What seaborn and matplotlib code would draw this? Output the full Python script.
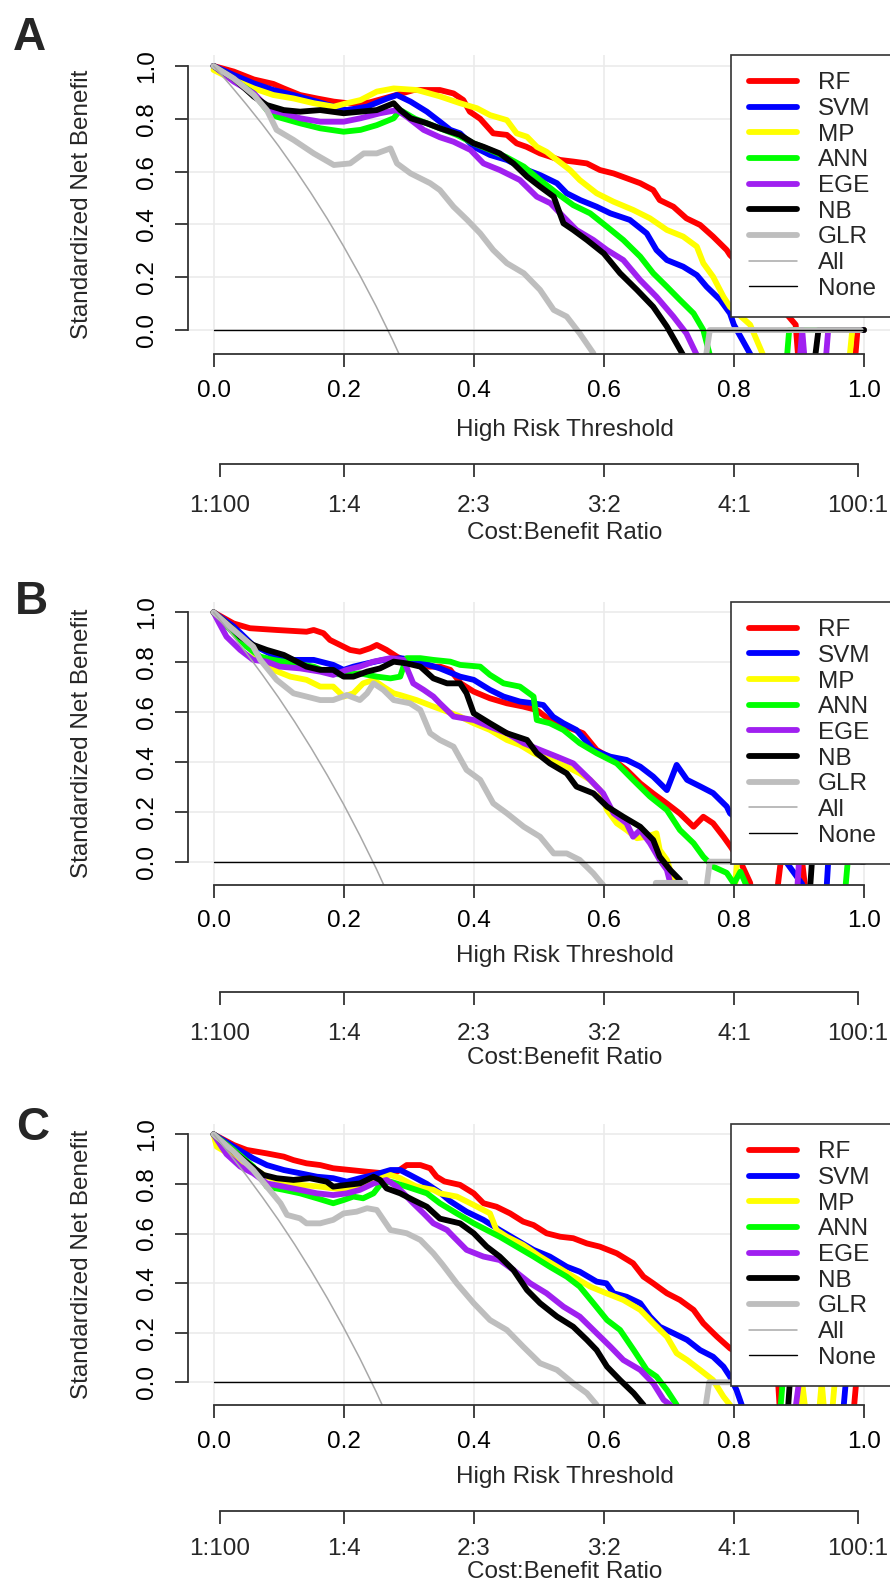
import numpy as np
import pandas as pd
import seaborn as sns
import matplotlib.pyplot as plt
from matplotlib.lines import Line2D

sns.set_style("white")
plt.rcParams['font.family'] = ['Liberation Sans', 'DejaVu Sans']

# model names and colours (R colour names red, blue, yellow, green, purple, black, gray)
models = ['RF', 'SVM', 'MP', 'ANN', 'EGE', 'NB', 'GLR']
model_colors = ['#FF0000', '#0000FF', '#FFFF00', '#00FF00', '#A020F0', '#000000', '#BEBEBE']
panel_letters = ['A', 'B', 'C']

risk_ticks = [0.0, 0.2, 0.4, 0.6, 0.8, 1.0]
risk_labels = ['0.0', '0.2', '0.4', '0.6', '0.8', '1.0']
nb_ticks = [0.0, 0.2, 0.4, 0.6, 0.8, 1.0]
nb_labels = ['0.0', '0.2', '0.4', '0.6', '0.8', '1.0']
cb_ticks = [0.0099, 0.2, 0.4, 0.6, 0.8, 0.9901]
cb_labels = ['1:100', '1:4', '2:3', '3:2', '4:1', '100:1']

# reference lines
none_x = [0.0, 1.0]
none_y = [0.0, 0.0]
all_x = [0.0, 0.025, 0.05, 0.075, 0.1, 0.125, 0.15, 0.175, 0.2, 0.225, 0.25, 0.275, 0.3]
a_all_y = [1.0, 0.930, 0.856, 0.779, 0.697, 0.610, 0.518, 0.421, 0.317, 0.207, 0.090, -0.036, -0.170]
b_all_y = [1.0, 0.921, 0.838, 0.750, 0.658, 0.560, 0.456, 0.346, 0.230, 0.105, -0.027, -0.169, -0.32]
c_all_y = [1.0, 0.920, 0.836, 0.747, 0.654, 0.555, 0.450, 0.339, 0.221, 0.096, -0.038, -0.182, -0.34]

# ---- panel A: (threshold, standardized net benefit) ----
a_rf = [(0, 1.0), (0.031, 0.979), (0.062, 0.949), (0.092, 0.932), (0.108, 0.915), (0.133, 0.890),
        (0.159, 0.877), (0.185, 0.865), (0.21, 0.858), (0.24, 0.862), (0.272, 0.884), (0.308, 0.909),
        (0.348, 0.909), (0.369, 0.896), (0.384, 0.871), (0.394, 0.827), (0.41, 0.80), (0.43, 0.745),
        (0.451, 0.739), (0.466, 0.707), (0.481, 0.694), (0.502, 0.669), (0.533, 0.644), (0.553, 0.638),
        (0.574, 0.631), (0.594, 0.606), (0.615, 0.593), (0.635, 0.575), (0.656, 0.556), (0.676, 0.530),
        (0.686, 0.492), (0.707, 0.467), (0.727, 0.423), (0.748, 0.398), (0.768, 0.354), (0.789, 0.303),
        (0.794, 0.284), (0.85, 0.15), (0.895, 0.02), (0.905, -0.3), (0.98, -0.3), (0.99, 0.0), (1.0, 0.0)]
a_svm = [(0, 1.0), (0.031, 0.966), (0.062, 0.934), (0.092, 0.909), (0.123, 0.890), (0.159, 0.865),
         (0.185, 0.846), (0.205, 0.833), (0.236, 0.846), (0.267, 0.877), (0.282, 0.890), (0.303, 0.865),
         (0.328, 0.827), (0.348, 0.789), (0.364, 0.758), (0.379, 0.745), (0.40, 0.694), (0.425, 0.663),
         (0.451, 0.644), (0.482, 0.606), (0.502, 0.587), (0.528, 0.556), (0.543, 0.518), (0.564, 0.492),
         (0.589, 0.467), (0.61, 0.442), (0.64, 0.417), (0.666, 0.366), (0.681, 0.303), (0.697, 0.265),
         (0.722, 0.240), (0.743, 0.208), (0.758, 0.164), (0.779, 0.114), (0.794, 0.063), (0.80, 0.02),
         (0.826, -0.095), (0.84, -0.3), (1.0, -0.3)]
a_mp = [(0, 0.985), (0.031, 0.947), (0.062, 0.915), (0.092, 0.890), (0.123, 0.877), (0.154, 0.859),
        (0.185, 0.846), (0.205, 0.859), (0.226, 0.871), (0.251, 0.903), (0.277, 0.915), (0.313, 0.909),
        (0.348, 0.885), (0.379, 0.859), (0.405, 0.840), (0.425, 0.814), (0.451, 0.795), (0.466, 0.745),
        (0.482, 0.732), (0.497, 0.694), (0.512, 0.675), (0.528, 0.644), (0.548, 0.606), (0.563, 0.568),
        (0.589, 0.518), (0.615, 0.486), (0.645, 0.455), (0.671, 0.423), (0.697, 0.379), (0.722, 0.354),
        (0.743, 0.316), (0.753, 0.253), (0.768, 0.202), (0.784, 0.126), (0.794, 0.088), (0.825, 0.02),
        (0.845, -0.095), (0.86, -0.3), (0.97, -0.3), (0.982, 0.0), (1.0, 0.0)]
a_ann = [(0, 1.0), (0.031, 0.947), (0.062, 0.896), (0.082, 0.833), (0.097, 0.808), (0.133, 0.783),
         (0.164, 0.764), (0.2, 0.751), (0.226, 0.758), (0.251, 0.776), (0.277, 0.802), (0.287, 0.833),
         (0.31, 0.80), (0.348, 0.764), (0.374, 0.739), (0.40, 0.707), (0.425, 0.682), (0.45, 0.655),
         (0.477, 0.619), (0.502, 0.568), (0.528, 0.518), (0.553, 0.473), (0.579, 0.442), (0.605, 0.391),
         (0.63, 0.341), (0.656, 0.278), (0.676, 0.215), (0.697, 0.164), (0.717, 0.114), (0.738, 0.063),
         (0.753, 0.0), (0.763, -0.095), (0.78, -0.3), (0.875, -0.3), (0.885, 0.0), (1.0, 0.0)]
a_ege = [(0, 1.0), (0.031, 0.941), (0.062, 0.896), (0.087, 0.833), (0.108, 0.821), (0.133, 0.802),
         (0.164, 0.789), (0.2, 0.789), (0.226, 0.802), (0.256, 0.821), (0.282, 0.833), (0.297, 0.808),
         (0.323, 0.758), (0.348, 0.730), (0.369, 0.713), (0.395, 0.682), (0.415, 0.631), (0.44, 0.606),
         (0.471, 0.568), (0.497, 0.505), (0.518, 0.480), (0.538, 0.429), (0.558, 0.379), (0.584, 0.341),
         (0.605, 0.303), (0.63, 0.265), (0.656, 0.189), (0.681, 0.126), (0.707, 0.051), (0.727, -0.013),
         (0.743, -0.095), (0.76, -0.3), (0.895, -0.3), (0.905, 0.0), (0.915, -0.3), (0.935, -0.3),
         (0.945, 0.0), (1.0, 0.0)]
a_nb = [(0, 1.0), (0.031, 0.953), (0.062, 0.884), (0.082, 0.852), (0.108, 0.833), (0.133, 0.827),
        (0.164, 0.833), (0.2, 0.821), (0.226, 0.827), (0.251, 0.833), (0.277, 0.859), (0.287, 0.833),
        (0.303, 0.802), (0.328, 0.783), (0.348, 0.764), (0.379, 0.739), (0.40, 0.707), (0.415, 0.694),
        (0.44, 0.669), (0.461, 0.631), (0.482, 0.581), (0.502, 0.543), (0.523, 0.505), (0.538, 0.404),
        (0.553, 0.379), (0.574, 0.341), (0.60, 0.290), (0.625, 0.215), (0.651, 0.152), (0.676, 0.088),
        (0.697, 0.013), (0.722, -0.095), (0.74, -0.3), (0.915, -0.3), (0.93, 0.0), (1.0, 0.0)]
a_glr = [(0, 1.0), (0.031, 0.953), (0.062, 0.890), (0.082, 0.833), (0.097, 0.758), (0.123, 0.720),
         (0.154, 0.669), (0.185, 0.625), (0.21, 0.631), (0.231, 0.669), (0.251, 0.669), (0.272, 0.688),
         (0.282, 0.631), (0.303, 0.593), (0.333, 0.556), (0.348, 0.530), (0.369, 0.467), (0.39, 0.417),
         (0.41, 0.366), (0.43, 0.303), (0.451, 0.253), (0.477, 0.215), (0.502, 0.152), (0.523, 0.076),
         (0.543, 0.051), (0.563, -0.013), (0.584, -0.088), (0.60, -0.3), (0.745, -0.3), (0.763, 0.0),
         (0.995, 0.0)]

# ---- panel B ----
b_rf = [(0, 1.0), (0.031, 0.955), (0.056, 0.936), (0.097, 0.929), (0.143, 0.922), (0.154, 0.929),
        (0.169, 0.916), (0.179, 0.889), (0.21, 0.849), (0.225, 0.842), (0.241, 0.856), (0.251, 0.869),
        (0.266, 0.849), (0.282, 0.822), (0.302, 0.795), (0.328, 0.782), (0.348, 0.782), (0.364, 0.769),
        (0.38, 0.715), (0.40, 0.682), (0.425, 0.655), (0.451, 0.635), (0.476, 0.622), (0.497, 0.608),
        (0.517, 0.568), (0.543, 0.541), (0.568, 0.515), (0.589, 0.448), (0.615, 0.408), (0.635, 0.368),
        (0.656, 0.314), (0.676, 0.273), (0.697, 0.233), (0.717, 0.193), (0.738, 0.140), (0.753, 0.180),
        (0.768, 0.154), (0.784, 0.100), (0.795, 0.06), (0.81, 0.0), (0.825, -0.085), (0.835, -0.3),
        (0.858, -0.3), (0.872, 0.0), (0.905, 0.0), (0.918, -0.3), (1.0, -0.3)]
b_svm = [(0, 1.0), (0.031, 0.943), (0.06, 0.87), (0.09, 0.83), (0.123, 0.809), (0.154, 0.809),
         (0.184, 0.789), (0.2, 0.769), (0.215, 0.782), (0.236, 0.795), (0.261, 0.809), (0.287, 0.816),
         (0.307, 0.809), (0.33, 0.79), (0.348, 0.775), (0.379, 0.742), (0.40, 0.729), (0.425, 0.689),
         (0.446, 0.662), (0.471, 0.642), (0.492, 0.635), (0.507, 0.628), (0.522, 0.581), (0.538, 0.555),
         (0.558, 0.528), (0.584, 0.448), (0.61, 0.421), (0.635, 0.408), (0.656, 0.381), (0.676, 0.341),
         (0.697, 0.287), (0.712, 0.388), (0.728, 0.328), (0.748, 0.302), (0.768, 0.275), (0.789, 0.221),
         (0.794, 0.194), (0.84, 0.10), (0.88, 0.0), (0.905, -0.09), (0.91, -0.3), (0.938, -0.3),
         (0.945, 0.0), (1.0, 0.0)]
b_mp = [(0, 1.0), (0.031, 0.93), (0.05, 0.87), (0.072, 0.809), (0.092, 0.769), (0.118, 0.742),
        (0.143, 0.729), (0.164, 0.702), (0.184, 0.702), (0.2, 0.662), (0.215, 0.675), (0.23, 0.715),
        (0.246, 0.729), (0.262, 0.70), (0.277, 0.675), (0.287, 0.668), (0.312, 0.648), (0.338, 0.622),
        (0.359, 0.602), (0.379, 0.582), (0.40, 0.555), (0.425, 0.528), (0.451, 0.488), (0.471, 0.468),
        (0.492, 0.435), (0.517, 0.408), (0.543, 0.381), (0.563, 0.354), (0.579, 0.328), (0.594, 0.287),
        (0.605, 0.207), (0.62, 0.154), (0.635, 0.127), (0.651, 0.094), (0.666, 0.100), (0.681, 0.114),
        (0.686, 0.047), (0.697, 0.007), (0.707, -0.073), (0.715, -0.3), (0.795, -0.3), (0.805, 0.0),
        (1.0, 0.0)]
b_ann = [(0, 1.0), (0.031, 0.916), (0.051, 0.862), (0.072, 0.822), (0.092, 0.809), (0.123, 0.795),
         (0.154, 0.782), (0.179, 0.755), (0.2, 0.749), (0.225, 0.755), (0.251, 0.742), (0.272, 0.735),
         (0.287, 0.742), (0.292, 0.782), (0.297, 0.816), (0.318, 0.816), (0.338, 0.809), (0.364, 0.802),
         (0.379, 0.789), (0.41, 0.782), (0.425, 0.749), (0.446, 0.715), (0.471, 0.702), (0.492, 0.662),
         (0.497, 0.568), (0.517, 0.555), (0.538, 0.528), (0.563, 0.475), (0.589, 0.435), (0.62, 0.394),
         (0.645, 0.328), (0.671, 0.261), (0.697, 0.207), (0.717, 0.127), (0.738, 0.074), (0.753, 0.020),
         (0.768, -0.02), (0.789, -0.045), (0.80, -0.088), (0.81, -0.04), (0.82, -0.1), (0.83, -0.3),
         (0.965, -0.3), (0.975, 0.0), (1.0, 0.0)]
b_ege = [(0, 1.0), (0.008, 0.96), (0.02, 0.902), (0.041, 0.849), (0.061, 0.809), (0.082, 0.802),
         (0.102, 0.782), (0.133, 0.775), (0.164, 0.762), (0.184, 0.749), (0.205, 0.769), (0.225, 0.782),
         (0.246, 0.802), (0.272, 0.816), (0.292, 0.809), (0.307, 0.715), (0.323, 0.689), (0.338, 0.662),
         (0.348, 0.635), (0.369, 0.582), (0.40, 0.568), (0.425, 0.541), (0.451, 0.515), (0.477, 0.475),
         (0.502, 0.448), (0.528, 0.421), (0.553, 0.394), (0.579, 0.328), (0.599, 0.274), (0.615, 0.194),
         (0.635, 0.154), (0.645, 0.100), (0.656, 0.127), (0.671, 0.074), (0.686, 0.007), (0.697, -0.033),
         (0.703, -0.094), (0.71, -0.3), (0.893, -0.3), (0.90, 0.0), (1.0, 0.0)]
b_nb = [(0, 1.0), (0.026, 0.943), (0.041, 0.902), (0.061, 0.869), (0.082, 0.849), (0.108, 0.829),
        (0.123, 0.809), (0.143, 0.782), (0.164, 0.769), (0.184, 0.769), (0.2, 0.742), (0.215, 0.742),
        (0.236, 0.762), (0.256, 0.775), (0.277, 0.802), (0.297, 0.795), (0.318, 0.782), (0.338, 0.735),
        (0.359, 0.715), (0.379, 0.715), (0.389, 0.675), (0.40, 0.595), (0.425, 0.555), (0.451, 0.515),
        (0.482, 0.488), (0.497, 0.435), (0.517, 0.394), (0.543, 0.354), (0.558, 0.301), (0.584, 0.274),
        (0.605, 0.221), (0.63, 0.180), (0.656, 0.140), (0.676, 0.087), (0.686, 0.020), (0.702, -0.033),
        (0.717, -0.073), (0.725, -0.3), (0.912, -0.3), (0.92, 0.0), (1.0, 0.0)]
b_glr = [(0, 1.0), (0.031, 0.929), (0.061, 0.862), (0.072, 0.809), (0.097, 0.729), (0.123, 0.675),
         (0.143, 0.662), (0.164, 0.648), (0.184, 0.648), (0.205, 0.668), (0.225, 0.648), (0.236, 0.675),
         (0.246, 0.715), (0.261, 0.689), (0.277, 0.648), (0.302, 0.635), (0.318, 0.608), (0.333, 0.515),
         (0.348, 0.488), (0.369, 0.461), (0.389, 0.368), (0.41, 0.328), (0.43, 0.234), (0.451, 0.194),
         (0.477, 0.140), (0.502, 0.100), (0.523, 0.033), (0.543, 0.033), (0.563, 0.007), (0.584, -0.047),
         (0.599, -0.094), (0.61, -0.3), (0.672, -0.3), (0.68, -0.085), (0.725, -0.085), (0.735, -0.3),
         (0.748, -0.3), (0.763, 0.0), (0.993, 0.0)]

# ---- panel C ----
c_rf = [(0, 1.0), (0.031, 0.957), (0.051, 0.937), (0.082, 0.923), (0.108, 0.910), (0.123, 0.896),
        (0.143, 0.883), (0.164, 0.876), (0.184, 0.863), (0.21, 0.856), (0.236, 0.849), (0.261, 0.843),
        (0.282, 0.849), (0.297, 0.876), (0.318, 0.876), (0.333, 0.863), (0.343, 0.829), (0.355, 0.81),
        (0.379, 0.796), (0.40, 0.762), (0.415, 0.722), (0.435, 0.708), (0.456, 0.681), (0.476, 0.648),
        (0.492, 0.634), (0.512, 0.601), (0.533, 0.587), (0.553, 0.581), (0.574, 0.560), (0.594, 0.547),
        (0.62, 0.520), (0.645, 0.480), (0.661, 0.426), (0.676, 0.399), (0.697, 0.359), (0.717, 0.332),
        (0.738, 0.292), (0.753, 0.238), (0.774, 0.184), (0.794, 0.137), (0.83, 0.08), (0.86, 0.02),
        (0.868, 0.0), (0.875, -0.3), (0.978, -0.3), (0.988, 0.0), (1.0, 0.0)]
c_svm = [(0, 1.0), (0.031, 0.950), (0.061, 0.903), (0.082, 0.876), (0.108, 0.856), (0.133, 0.843),
         (0.159, 0.829), (0.184, 0.823), (0.205, 0.809), (0.225, 0.823), (0.246, 0.836), (0.272, 0.856),
         (0.287, 0.856), (0.302, 0.836), (0.328, 0.800), (0.348, 0.765), (0.364, 0.73), (0.389, 0.688),
         (0.415, 0.655), (0.44, 0.614), (0.466, 0.574), (0.492, 0.534), (0.517, 0.507), (0.543, 0.466),
         (0.563, 0.446), (0.589, 0.406), (0.604, 0.399), (0.615, 0.359), (0.635, 0.345), (0.656, 0.319),
         (0.671, 0.265), (0.686, 0.224), (0.707, 0.198), (0.728, 0.171), (0.748, 0.130), (0.768, 0.103),
         (0.784, 0.063), (0.794, 0.023), (0.804, -0.031), (0.812, -0.091), (0.82, -0.3), (0.962, -0.3),
         (0.972, 0.0), (1.0, 0.0)]
c_mp = [(0, 1.0), (0.005, 0.95), (0.031, 0.910), (0.061, 0.863), (0.082, 0.829), (0.108, 0.809),
        (0.133, 0.796), (0.164, 0.789), (0.184, 0.782), (0.21, 0.776), (0.23, 0.789), (0.251, 0.816),
        (0.272, 0.836), (0.287, 0.823), (0.312, 0.789), (0.338, 0.776), (0.348, 0.762), (0.374, 0.749),
        (0.40, 0.715), (0.425, 0.681), (0.435, 0.614), (0.451, 0.587), (0.476, 0.554), (0.502, 0.507),
        (0.528, 0.466), (0.553, 0.426), (0.579, 0.386), (0.604, 0.359), (0.63, 0.332), (0.656, 0.292),
        (0.676, 0.238), (0.697, 0.184), (0.712, 0.117), (0.728, 0.090), (0.748, 0.050), (0.768, 0.009),
        (0.784, -0.058), (0.794, -0.091), (0.80, -0.3), (0.895, -0.3), (0.905, 0.0), (0.918, -0.3),
        (0.925, -0.3), (0.935, 0.0), (0.945, -0.3), (0.955, 0.0), (1.0, 0.0)]
c_ann = [(0, 1.0), (0.031, 0.937), (0.061, 0.870), (0.082, 0.789), (0.108, 0.776), (0.133, 0.762),
         (0.159, 0.742), (0.184, 0.722), (0.2, 0.735), (0.215, 0.749), (0.23, 0.742), (0.246, 0.762),
         (0.256, 0.796), (0.272, 0.809), (0.297, 0.789), (0.328, 0.762), (0.348, 0.722), (0.374, 0.681),
         (0.40, 0.641), (0.42, 0.614), (0.44, 0.587), (0.466, 0.547), (0.492, 0.507), (0.517, 0.466),
         (0.543, 0.426), (0.563, 0.386), (0.584, 0.319), (0.605, 0.251), (0.625, 0.211), (0.646, 0.130),
         (0.666, 0.050), (0.681, 0.023), (0.697, -0.031), (0.712, -0.091), (0.72, -0.3), (0.865, -0.3),
         (0.875, 0.0), (1.0, 0.0)]
c_ege = [(0, 1.0), (0.02, 0.92), (0.041, 0.870), (0.061, 0.843), (0.082, 0.802), (0.108, 0.789),
         (0.133, 0.776), (0.159, 0.762), (0.184, 0.755), (0.205, 0.762), (0.225, 0.776), (0.246, 0.802),
         (0.266, 0.816), (0.282, 0.789), (0.307, 0.722), (0.323, 0.681), (0.338, 0.641), (0.359, 0.614),
         (0.369, 0.587), (0.389, 0.534), (0.415, 0.507), (0.44, 0.493), (0.461, 0.453), (0.487, 0.399),
         (0.512, 0.359), (0.538, 0.305), (0.563, 0.265), (0.589, 0.198), (0.61, 0.144), (0.63, 0.090),
         (0.656, 0.050), (0.676, -0.004), (0.692, -0.071), (0.702, -0.091), (0.71, -0.3), (0.885, -0.3),
         (0.90, 0.0), (1.0, 0.0)]
c_nb = [(0, 1.0), (0.031, 0.930), (0.056, 0.876), (0.077, 0.836), (0.097, 0.823), (0.123, 0.816),
        (0.148, 0.823), (0.174, 0.809), (0.184, 0.789), (0.205, 0.796), (0.225, 0.802), (0.246, 0.829),
        (0.256, 0.816), (0.266, 0.782), (0.287, 0.762), (0.307, 0.735), (0.328, 0.708), (0.348, 0.66),
        (0.379, 0.641), (0.40, 0.601), (0.42, 0.547), (0.44, 0.507), (0.461, 0.453), (0.482, 0.372),
        (0.502, 0.319), (0.528, 0.265), (0.553, 0.224), (0.574, 0.171), (0.589, 0.130), (0.605, 0.063),
        (0.625, 0.009), (0.646, -0.044), (0.661, -0.091), (0.67, -0.3), (0.878, -0.3), (0.886, 0.0),
        (1.0, 0.0)]
c_glr = [(0, 1.0), (0.031, 0.930), (0.061, 0.856), (0.082, 0.789), (0.103, 0.722), (0.113, 0.675),
         (0.133, 0.661), (0.143, 0.641), (0.164, 0.641), (0.184, 0.655), (0.2, 0.681), (0.22, 0.688),
         (0.236, 0.702), (0.251, 0.695), (0.272, 0.614), (0.297, 0.601), (0.318, 0.574), (0.338, 0.520),
         (0.352, 0.475), (0.374, 0.399), (0.40, 0.319), (0.425, 0.251), (0.451, 0.211), (0.476, 0.144),
         (0.502, 0.077), (0.528, 0.050), (0.553, -0.004), (0.574, -0.044), (0.589, -0.091), (0.60, -0.3),
         (0.745, -0.3), (0.762, 0.0), (0.995, 0.0)]

panel_curves = [[a_rf, a_svm, a_mp, a_ann, a_ege, a_nb, a_glr],
                [b_rf, b_svm, b_mp, b_ann, b_ege, b_nb, b_glr],
                [c_rf, c_svm, c_mp, c_ann, c_ege, c_nb, c_glr]]
panel_all = [a_all_y, b_all_y, c_all_y]

# ---- layout (pixels of the 890 x 1585 canvas) ----
W, H = 890, 1585
def fx(px):
    return px / W
def fy(py):
    return 1 - py / H

ax_left, ax_right = 187.5, 890
ax_tops = [54.9, 601.8, 1123.9]
ax_bottoms = [354.3, 884.6, 1405.1]
sec_lines = [464, 992, 1511]
sec_pad = [13, 13, 10]
xlab_off = [76, 71, 72]
cblab_off = [69, 66, 61]
letter_pos = [(29.5, 38), (31, 602), (33, 1128)]

FS = 17.5
axis_col = '#333333'
palette = dict(zip(models, model_colors))

fig = plt.figure(figsize=(W / 100, H / 100), dpi=100)

for i in range(3):
    top, bot = ax_tops[i], ax_bottoms[i]
    ax = fig.add_axes([fx(ax_left), fy(bot), fx(ax_right) - fx(ax_left), fy(top) - fy(bot)])

    rows = []
    for name, pts in zip(models, panel_curves[i]):
        for t, v in pts:
            rows.append((name, t, v))
    df = pd.DataFrame(rows, columns=['model', 'threshold', 'snb'])

    sns.lineplot(data=df, x='threshold', y='snb', hue='model', hue_order=models,
                 palette=palette, estimator=None, sort=False, lw=4.2, legend=False, ax=ax)
    sns.lineplot(x=all_x, y=panel_all[i], color='#A8A8A8', lw=1.1, estimator=None, sort=False, ax=ax)
    sns.lineplot(x=none_x, y=none_y, color='black', lw=1.0, estimator=None, sort=False, ax=ax)

    ax.set_xlim(-0.04, 1.04)
    ax.set_ylim(-0.092, 1.042)
    ax.set_xticks(risk_ticks)
    ax.set_xticklabels(risk_labels)
    ax.set_yticks(nb_ticks)
    ax.set_yticklabels(nb_labels, rotation=90, va='center')
    ax.set_xlabel('')
    ax.set_ylabel('')
    ax.grid(True, color='#EBEBEB', lw=1.2)
    ax.set_axisbelow(True)
    for s in ['top', 'right']:
        ax.spines[s].set_visible(False)
    for s in ['left', 'bottom']:
        ax.spines[s].set_color(axis_col)
        ax.spines[s].set_linewidth(1.3)
    ax.spines['left'].set_bounds(0, 1)
    ax.spines['bottom'].set_bounds(0, 1)
    ax.tick_params(axis='both', direction='out', length=9.5, width=1.3, color=axis_col,
                   labelsize=FS, labelcolor='black', bottom=True, left=True)
    ax.tick_params(axis='x', pad=9)
    ax.tick_params(axis='y', pad=12)

    handles = [Line2D([], [], color=c, lw=4.2) for c in model_colors]
    handles += [Line2D([], [], color='#A8A8A8', lw=1.1), Line2D([], [], color='black', lw=1.0)]
    leg = ax.legend(handles, models + ['All', 'None'], loc='upper left',
                    bbox_to_anchor=(0.7737, 1.0), borderaxespad=0, frameon=True, fancybox=False,
                    edgecolor=axis_col, framealpha=1, fontsize=FS, handlelength=2.0,
                    handletextpad=0.85, labelspacing=0.15, borderpad=0.72)
    leg.get_frame().set_linewidth(1.2)

    # cost:benefit axis below
    sl = sec_lines[i]
    ax2 = fig.add_axes([fx(ax_left), fy(sl), fx(ax_right) - fx(ax_left), 0.0005])
    ax2.set_xlim(-0.04, 1.04)
    ax2.patch.set_visible(False)
    for s in ['top', 'right', 'left']:
        ax2.spines[s].set_visible(False)
    ax2.spines['bottom'].set_color(axis_col)
    ax2.spines['bottom'].set_linewidth(1.3)
    ax2.spines['bottom'].set_bounds(cb_ticks[0], cb_ticks[-1])
    ax2.set_yticks([])
    ax2.set_xticks(cb_ticks)
    ax2.set_xticklabels(cb_labels)
    ax2.tick_params(axis='x', direction='out', length=9.5, width=1.3, color=axis_col,
                    labelsize=FS, pad=sec_pad[i], bottom=True)

    # axis titles
    fig.text(fx(82), fy((top + bot) / 2), 'Standardized Net Benefit', rotation=90,
             ha='center', va='center', fontsize=FS)
    fig.text(fx(ax_left + 0.54 * 650.5 + 26), fy(bot + xlab_off[i]), 'High Risk Threshold',
             ha='center', va='center', fontsize=FS)
    fig.text(fx(ax_left + 0.54 * 650.5 + 26), fy(sl + cblab_off[i]), 'Cost:Benefit Ratio',
             ha='center', va='center', fontsize=FS)

    lx, ly = letter_pos[i]
    fig.text(fx(lx), fy(ly), panel_letters[i], ha='center', va='center',
             fontsize=33, fontweight='bold')

fig.savefig('out.png', dpi=100)
